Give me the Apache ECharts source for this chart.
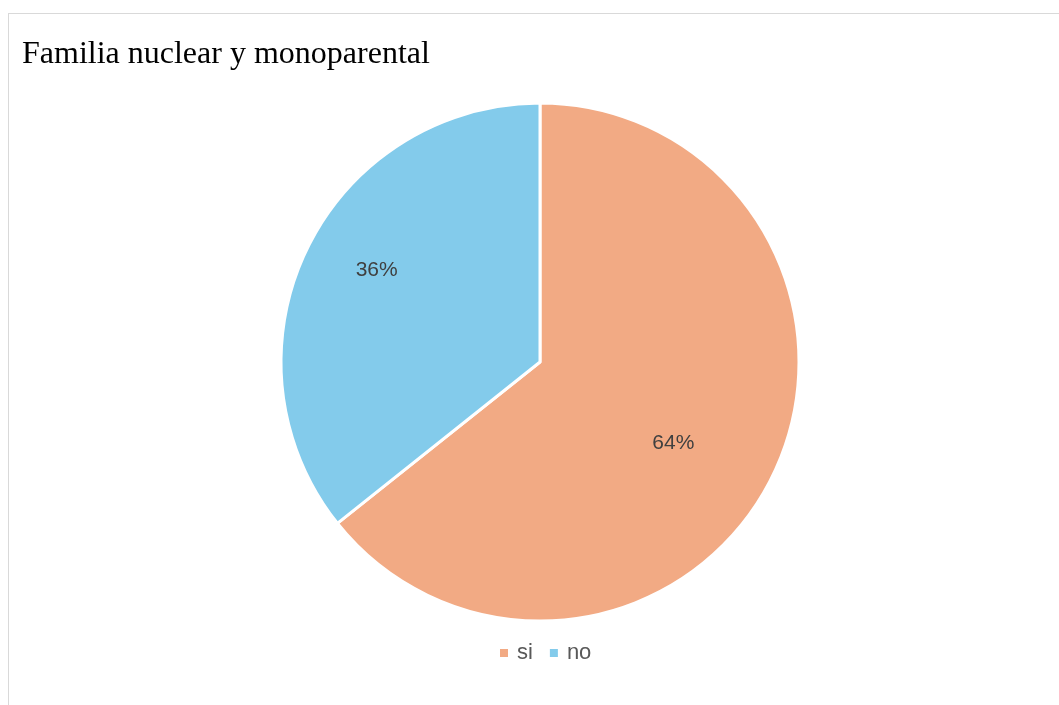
<!DOCTYPE html>
<html>
<head>
<meta charset="utf-8">
<script src="https://cdn.jsdelivr.net/npm/echarts@6/dist/echarts.min.js"></script>
<style>
html,body{margin:0;padding:0;background:#fff;}
#frame{position:absolute;left:8px;top:13px;width:1100px;height:800px;border-top:1px solid #d9d9d9;border-left:1px solid #d9d9d9;}
#chart{position:absolute;left:0;top:0;width:1059px;height:705px;}
</style>
</head>
<body>
<div id="frame"></div>
<div id="chart"></div>
<script>
const titleText = 'Familia nuclear y monoparental';
const categories = ['si', 'no'];
const values = [64.3, 35.7];
const colors = ['#F2AA84', '#83CBEB'];
const labelOffsets = [[14, 24], [-44, -34]];

const chart = echarts.init(document.getElementById('chart'), null, {renderer: 'canvas'});
chart.setOption({
  animation: false,
  backgroundColor: 'transparent',
  title: {
    text: titleText,
    left: 17,
    top: 34,
    textStyle: {fontFamily: 'Liberation Serif', fontWeight: 'normal', fontSize: 32, color: '#000'}
  },
  legend: {
    data: categories,
    bottom: 36,
    left: 493,
    icon: 'rect',
    itemWidth: 10,
    itemHeight: 10,
    itemGap: 15,
    textStyle: {fontFamily: 'Liberation Sans', fontSize: 22, color: '#595959', padding: [0, 0, 0, 3]}
  },
  series: [{
    type: 'pie',
    center: [540, 362],
    radius: 259,
    startAngle: 90,
    clockwise: true,
    percentPrecision: 0,
    itemStyle: {borderColor: '#fff', borderWidth: 3},
    label: {
      show: true,
      position: 'inside',
      formatter: '{d}%',
      fontFamily: 'Liberation Sans',
      fontSize: 21,
      color: '#404040'
    },
    labelLine: {show: false},
    emphasis: {disabled: true},
    data: categories.map((c, i) => ({
      name: c,
      value: values[i],
      itemStyle: {color: colors[i]},
      label: {offset: labelOffsets[i]}
    }))
  }]
});
</script>
</body>
</html>
